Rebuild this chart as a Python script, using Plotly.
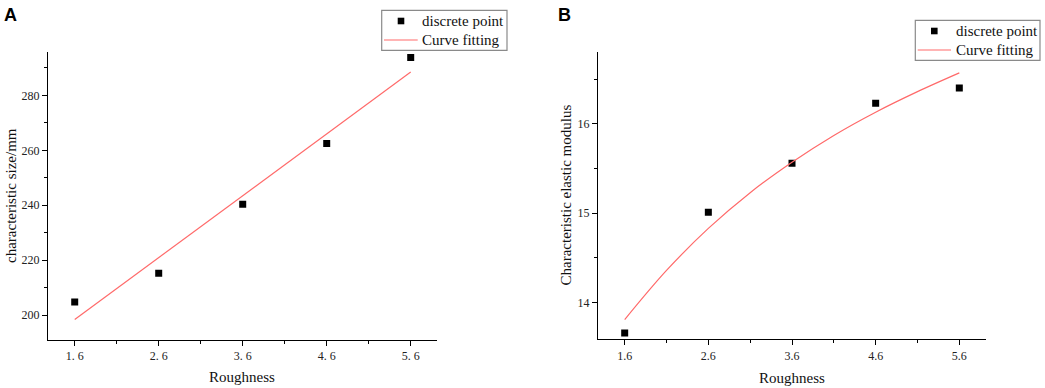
import plotly.graph_objects as go

# ---- data ----
roughness = [1.6, 2.6, 3.6, 4.6, 5.6]
x_tick_labels_a = ["1. 6", "2. 6", "3. 6", "4. 6", "5. 6"]
x_tick_labels_b = ["1.6", "2.6", "3.6", "4.6", "5.6"]

size_points = [204.8, 215.2, 240.4, 262.5, 293.8]
size_fit = [198.4, 220.9, 243.4, 265.9, 288.5]

modulus_points = [13.66, 15.01, 15.56, 16.23, 16.40]
fit_x_b = [1.6, 2.1, 2.6, 3.1, 3.6, 4.1, 4.6, 5.1, 5.6]
modulus_fit = [13.81, 14.36, 14.83, 15.23, 15.57, 15.87, 16.13, 16.36, 16.57]

legend_labels = ["discrete point", "Curve fitting"]

W, H = 1045, 388
SERIF = "Liberation Serif, Times New Roman, serif"
FIT_COLOR = "#ff6a6a"

def px_x(p):
    return p / W

def px_y(p):
    return 1 - p / H

fig = go.Figure()

fig.add_trace(go.Scatter(x=roughness, y=size_points, mode="markers", name=legend_labels[0],
                         marker=dict(symbol="square", size=7, color="black"),
                         xaxis="x", yaxis="y", showlegend=False))
fig.add_trace(go.Scatter(x=roughness, y=size_fit, mode="lines", name=legend_labels[1],
                         line=dict(color=FIT_COLOR, width=1.2),
                         xaxis="x", yaxis="y", showlegend=False))

fig.add_trace(go.Scatter(x=roughness, y=modulus_points, mode="markers", name=legend_labels[0],
                         marker=dict(symbol="square", size=7, color="black"),
                         xaxis="x2", yaxis="y2", showlegend=False))
fig.add_trace(go.Scatter(x=fit_x_b, y=modulus_fit, mode="lines", name=legend_labels[1],
                         line=dict(color=FIT_COLOR, width=1.2, shape="spline", smoothing=1.0),
                         xaxis="x2", yaxis="y2", showlegend=False))

axis_common = dict(showline=True, linecolor="black", linewidth=1.3, showgrid=False,
                   zeroline=False, ticks="outside", ticklen=5, tickwidth=1, tickcolor="black",
                   tickfont=dict(family=SERIF, size=12, color="#222"), mirror=False)

fig.update_layout(
    width=W, height=H, margin=dict(l=0, r=0, t=0, b=0),
    paper_bgcolor="white", plot_bgcolor="white",
    showlegend=False,
    xaxis=dict(domain=[px_x(48), px_x(437)], anchor="y", range=[1.282, 5.913],
               tickmode="array", tickvals=roughness, ticktext=x_tick_labels_a,
               minor=dict(ticks="outside", ticklen=3, tick0=1.6, dtick=0.5, tickcolor="black"),
               **axis_common),
    yaxis=dict(domain=[px_y(339.5), px_y(52)], anchor="x", range=[191.1, 295.8],
               tick0=200, dtick=20,
               minor=dict(ticks="outside", ticklen=3, tick0=200, dtick=10, tickcolor="black"),
               **axis_common),
    xaxis2=dict(domain=[px_x(598), px_x(986)], anchor="y2", range=[1.281, 5.919],
                tickmode="array", tickvals=roughness, ticktext=x_tick_labels_b,
                minor=dict(ticks="outside", ticklen=3, tick0=1.6, dtick=0.5, tickcolor="black"),
                **axis_common),
    yaxis2=dict(domain=[px_y(339.3), px_y(52.3)], anchor="x2", range=[13.59, 16.80],
                tick0=14, dtick=1,
                minor=dict(ticks="outside", ticklen=3, tick0=14, dtick=0.5, tickcolor="black"),
                **axis_common),
)

ann_font = dict(family=SERIF, size=15, color="#111")
label_font = dict(family="Liberation Sans, Arial, sans-serif", size=18, color="black")
annotations = [
    dict(text="<b>A</b>", x=px_x(2), y=px_y(3), xanchor="left", yanchor="top",
         font=label_font, showarrow=False, xref="paper", yref="paper"),
    dict(text="<b>B</b>", x=px_x(556), y=px_y(3), xanchor="left", yanchor="top",
         font=label_font, showarrow=False, xref="paper", yref="paper"),
    dict(text="Roughness", x=px_x(242), y=px_y(377), xanchor="center", yanchor="middle",
         font=ann_font, showarrow=False, xref="paper", yref="paper"),
    dict(text="Roughness", x=px_x(792), y=px_y(378), xanchor="center", yanchor="middle",
         font=ann_font, showarrow=False, xref="paper", yref="paper"),
    dict(text="characteristic size/mm", x=px_x(11), y=px_y(196), xanchor="center", yanchor="middle",
         textangle=-90, font=ann_font, showarrow=False, xref="paper", yref="paper"),
    dict(text="Characteristic elastic modulus", x=px_x(565), y=px_y(195.5), xanchor="center",
         yanchor="middle", textangle=-90, font=ann_font, showarrow=False, xref="paper", yref="paper"),
]

shapes = []

def add_legend(left, top, right, bottom, glyph_x, row1, row2, line_x0, line_x1, text_x):
    shapes.append(dict(type="rect", xref="paper", yref="paper",
                       x0=px_x(left), x1=px_x(right), y0=px_y(bottom), y1=px_y(top),
                       line=dict(color="#8a8a8a", width=1.2), fillcolor="white", layer="above"))
    shapes.append(dict(type="rect", xref="paper", yref="paper",
                       x0=px_x(glyph_x - 3.3), x1=px_x(glyph_x + 3.3),
                       y0=px_y(row1 + 3.3), y1=px_y(row1 - 3.3),
                       line=dict(width=0), fillcolor="black", layer="above"))
    shapes.append(dict(type="line", xref="paper", yref="paper",
                       x0=px_x(line_x0), x1=px_x(line_x1), y0=px_y(row2), y1=px_y(row2),
                       line=dict(color=FIT_COLOR, width=1.2), layer="above"))
    for txt, row in zip(legend_labels, [row1, row2]):
        annotations.append(dict(text=txt, x=px_x(text_x), y=px_y(row), xanchor="left",
                                yanchor="middle", font=ann_font, showarrow=False,
                                xref="paper", yref="paper"))

add_legend(381.7, 10.3, 507, 50.3, 401, 21, 40, 384, 417.7, 420)
add_legend(915.3, 20.3, 1040, 60.3, 934.3, 31, 50, 917.7, 951, 953.5)

fig.update_layout(annotations=annotations, shapes=shapes)

fig.write_html("out.html", config={"displayModeBar": False},
               post_script="document.body.style.margin='0';document.body.style.overflow='hidden';")
